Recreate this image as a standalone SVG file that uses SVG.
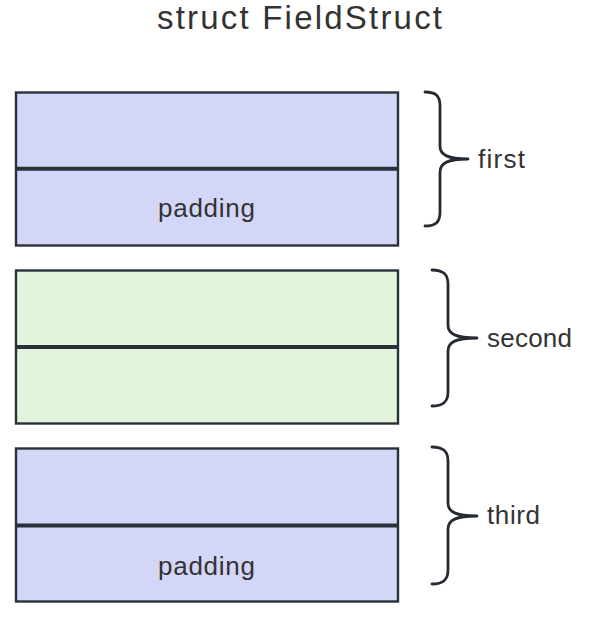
<svg xmlns="http://www.w3.org/2000/svg" width="592" height="618" viewBox="0 0 592 618">
<style>
.txt{font-family:"Liberation Sans",Arial,sans-serif;fill:#333333}
.cell{stroke:#2b313b;stroke-width:2.4}
.div{stroke:#2b313b;stroke-width:4}
.purple{fill:#d4d6f8}
.green{fill:#e2f5dc}
.brace{fill:none;stroke:#252a33;stroke-width:2.8;stroke-linecap:round;stroke-linejoin:round}
</style>
<rect width="592" height="618" fill="#ffffff"/>
<text class="txt" x="299.5" y="28.5" font-size="33" text-anchor="middle" textLength="285">struct FieldStruct</text>
<g id="first">
<rect class="cell purple" x="16" y="92.5" width="382" height="153"/>
<line class="div" x1="16" y1="168.7" x2="398" y2="168.7"/>
<text class="txt" x="158" y="217" font-size="26" textLength="97">padding</text>
</g>
<g id="second">
<rect class="cell green" x="16" y="270.5" width="382" height="153"/>
<line class="div" x1="16" y1="347" x2="398" y2="347"/>
</g>
<g id="third">
<rect class="cell purple" x="16" y="448.5" width="382" height="153"/>
<line class="div" x1="16" y1="525.5" x2="398" y2="525.5"/>
<text class="txt" x="158" y="575" font-size="26" textLength="97">padding</text>
</g>
<g id="connectors">
<path class="brace" d="M425,92 C436,92 440,96 440,106 L440,146 C440,155 448,159 468,159 C448,159 440,163 440,172 L440,212 C440,222 436,226 425,226"/>
<path class="brace" d="M432,270 C443,270 448,274 448,284 L448,325 C448,334 456,338 477,338 C456,338 448,342 448,351 L448,392 C448,402 443,406 432,406"/>
<path class="brace" d="M432,447 C443,447 448,451 448,461 L448,503 C448,512 456,516 477,516 C456,516 448,520 448,529 L448,570 C448,580 443,584 432,584"/>
</g>
<g id="labels">
<text class="txt" x="478" y="168" font-size="26" textLength="47">first</text>
<text class="txt" x="487" y="347" font-size="26" textLength="85">second</text>
<text class="txt" x="487" y="524" font-size="26" textLength="53">third</text>
</g>
</svg>
